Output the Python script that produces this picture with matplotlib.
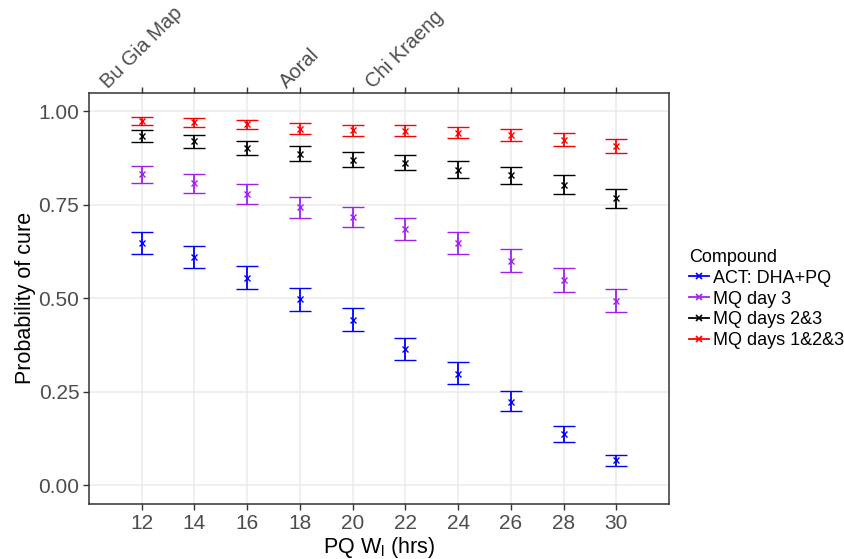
import matplotlib
matplotlib.use("Agg")
import matplotlib.pyplot as plt
from matplotlib.lines import Line2D

plt.rcParams['font.family'] = ['Liberation Sans', 'DejaVu Sans']
plt.rcParams['mathtext.default'] = 'regular'

wl_hours = [12, 14, 16, 18, 20, 22, 24, 26, 28, 30]
site_ticks = [12, 18, 22]
site_labels = ["Bu Gia Map", "Aoral", "Chi Kraeng"]

series_names = ["ACT: DHA+PQ", "MQ day 3", "MQ days 2&3", "MQ days 1&2&3"]
series_colors = ["#0000FF", "#A020F0", "#000000", "#FF0000"]

act_mid = [0.647, 0.610, 0.555, 0.497, 0.443, 0.365, 0.299, 0.224, 0.137, 0.067]
act_lo = [0.618, 0.580, 0.524, 0.466, 0.413, 0.335, 0.271, 0.199, 0.116, 0.051]
act_hi = [0.677, 0.640, 0.586, 0.528, 0.474, 0.395, 0.329, 0.251, 0.159, 0.082]

mq3_mid = [0.832, 0.808, 0.779, 0.743, 0.718, 0.686, 0.648, 0.601, 0.549, 0.494]
mq3_lo = [0.808, 0.783, 0.753, 0.714, 0.690, 0.656, 0.619, 0.570, 0.518, 0.464]
mq3_hi = [0.855, 0.832, 0.806, 0.770, 0.745, 0.715, 0.678, 0.631, 0.580, 0.526]

mq23_mid = [0.934, 0.920, 0.902, 0.887, 0.871, 0.863, 0.844, 0.829, 0.803, 0.768]
mq23_lo = [0.918, 0.902, 0.883, 0.867, 0.850, 0.842, 0.821, 0.806, 0.779, 0.742]
mq23_hi = [0.949, 0.937, 0.921, 0.907, 0.892, 0.884, 0.866, 0.852, 0.829, 0.793]

mq123_mid = [0.975, 0.971, 0.966, 0.954, 0.949, 0.948, 0.943, 0.936, 0.924, 0.908]
mq123_lo = [0.964, 0.959, 0.953, 0.939, 0.935, 0.934, 0.928, 0.920, 0.907, 0.890]
mq123_hi = [0.986, 0.982, 0.978, 0.968, 0.964, 0.963, 0.958, 0.952, 0.942, 0.926]

y_ticks = [0.00, 0.25, 0.50, 0.75, 1.00]
y_ticklabels = ["0.00", "0.25", "0.50", "0.75", "1.00"]

mids = [act_mid, mq3_mid, mq23_mid, mq123_mid]
los = [act_lo, mq3_lo, mq23_lo, mq123_lo]
his = [act_hi, mq3_hi, mq23_hi, mq123_hi]

fig = plt.figure(figsize=(8.45, 5.59), dpi=100)
ax = fig.add_axes([89/845, 1-504/559, (669-89)/845, (504-92.7)/559])

for m, lo, hi, c in zip(mids, los, his, series_colors):
    yerr = [[mm - l for mm, l in zip(m, lo)], [h - mm for mm, h in zip(m, hi)]]
    ax.errorbar(wl_hours, m, yerr=yerr, fmt='x', color=c, ecolor=c,
                elinewidth=1.3, capsize=7.6, capthick=1.3,
                markersize=4.5, markeredgewidth=1.0, zorder=3)

ax.set_xlim(10, 32)
ax.set_ylim(-0.05, 1.05)
ax.set_xticks(wl_hours)
ax.set_xticklabels([str(v) for v in wl_hours])
ax.set_yticks(y_ticks)
ax.set_yticklabels(y_ticklabels)
ax.grid(True, color="#EBEBEB", linewidth=1.1, zorder=0)
ax.set_axisbelow(True)
for s in ax.spines.values():
    s.set_color("#333333")
    s.set_linewidth(1.1)
ax.tick_params(axis='both', colors="#333333", labelcolor="#4D4D4D",
               labelsize=15, length=4, width=1.0, pad=3)

ax.set_xlabel(r"PQ W$_{l}$ (hrs)", fontsize=15.5, color="black", labelpad=2)
ax.set_ylabel("Probability of cure", fontsize=15.5, color="black")
ax.yaxis.set_label_coords(-0.092, 0.5)

ax2 = ax.twiny()
ax2.set_xlim(ax.get_xlim())
ax2.set_xticks(wl_hours)
top_labels = [site_labels[site_ticks.index(v)] if v in site_ticks else "" for v in wl_hours]
ax2.set_xticklabels(top_labels, rotation=45, ha='center', va='bottom')
ax2.tick_params(axis='x', colors="#333333", labelcolor="#4D4D4D",
                labelsize=14.5, length=4, width=1.0, pad=-3.5)
for s in ax2.spines.values():
    s.set_visible(False)

handles = [Line2D([], [], color=c, marker='x', linestyle='-', linewidth=1.3,
                  markersize=5, markeredgewidth=1.2) for c in series_colors]
leg = fig.legend(handles, series_names, title="Compound",
                 loc='center left', bbox_to_anchor=(689/845, 1-299/559),
                 frameon=False, fontsize=13, title_fontsize=13,
                 handlelength=1.1, handletextpad=0.25, labelspacing=0.22,
                 borderpad=0, borderaxespad=0)
leg._legend_box.align = "left"

fig.savefig("out.png", dpi=100)
